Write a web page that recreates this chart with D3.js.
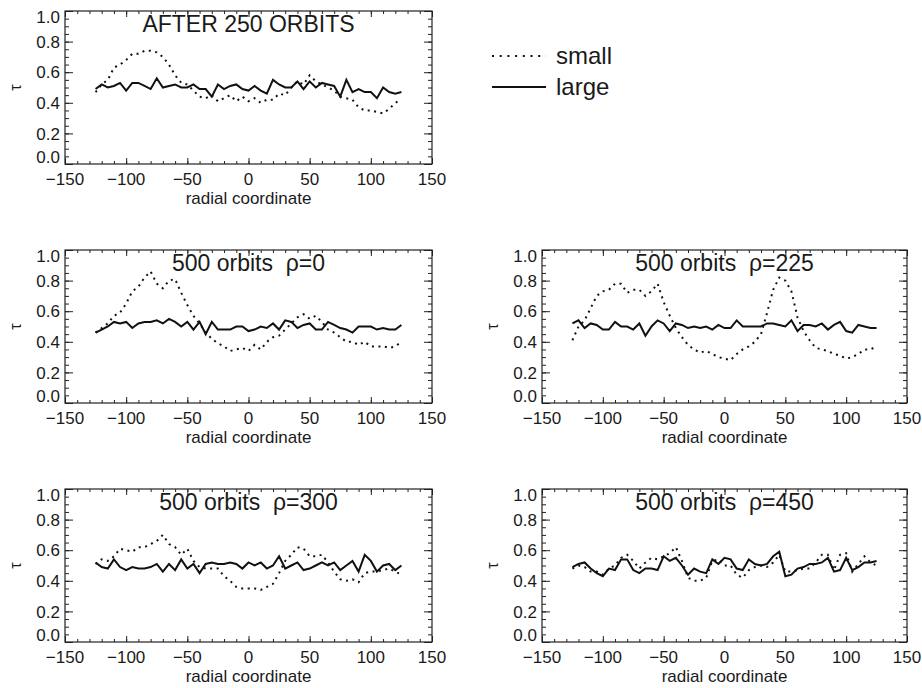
<!DOCTYPE html>
<html>
<head>
<meta charset="utf-8">
<script src="https://cdn.jsdelivr.net/npm/d3@7"></script>
<style>
	body { margin: 0; background: #fff; }
	text { font-family: "Liberation Sans", Arial, Helvetica, sans-serif; fill: #1a1a1a; }
</style>
</head>
<body>
<div id="chart"></div>
<script>
/* global d3 */

//	BEGIN data

// radial coordinate of every sample (same for all panels)
var radial = [-125, -120, -115, -110, -105, -100, -95, -90, -85, -80, -75, -70, -65, -60, -55, -50,
	-45, -40, -35, -30, -25, -20, -15, -10, -5, 0, 5, 10, 15, 20, 25, 30, 35, 40, 45, 50,
	55, 60, 65, 70, 75, 80, 85, 90, 95, 100, 105, 110, 115, 120, 125];

var panelTitles = ["AFTER 250 ORBITS", "500 orbits  \u03c1=0", "500 orbits  \u03c1=225",
	"500 orbits  \u03c1=300", "500 orbits  \u03c1=450"];

var seriesNames = ["small", "large"];

var xTicks = [-150, -100, -50, 0, 50, 100, 150];
var yTicks = [0.0, 0.2, 0.4, 0.6, 0.8, 1.0];

// after 250 orbits
var small250 = [0.47, 0.52, 0.55, 0.63, 0.65, 0.68, 0.72, 0.72, 0.74, 0.74, 0.73, 0.70, 0.65, 0.58, 0.53, 0.52,
	0.48, 0.44, 0.43, 0.45, 0.41, 0.43, 0.45, 0.41, 0.44, 0.41, 0.43, 0.40, 0.42, 0.42, 0.46, 0.45, 0.50, 0.54, 0.52, 0.58,
	0.54, 0.52, 0.50, 0.48, 0.44, 0.43, 0.42, 0.37, 0.35, 0.35, 0.34, 0.33, 0.36, 0.40, 0.42];
var large250 = [0.49, 0.52, 0.50, 0.51, 0.53, 0.48, 0.53, 0.53, 0.51, 0.49, 0.56, 0.50, 0.51, 0.52, 0.50, 0.50,
	0.52, 0.49, 0.49, 0.44, 0.52, 0.49, 0.51, 0.52, 0.49, 0.48, 0.51, 0.48, 0.46, 0.55, 0.52, 0.50, 0.50, 0.54, 0.49, 0.54,
	0.50, 0.53, 0.52, 0.51, 0.44, 0.55, 0.47, 0.49, 0.47, 0.47, 0.43, 0.50, 0.47, 0.46, 0.47];

// 500 orbits, rho = 0
var small0 = [0.46, 0.49, 0.52, 0.57, 0.59, 0.65, 0.73, 0.76, 0.82, 0.86, 0.78, 0.75, 0.80, 0.81, 0.72, 0.64,
	0.57, 0.52, 0.46, 0.42, 0.39, 0.37, 0.34, 0.35, 0.36, 0.34, 0.38, 0.35, 0.40, 0.43, 0.44, 0.48, 0.52, 0.56, 0.58, 0.55,
	0.57, 0.53, 0.48, 0.46, 0.43, 0.40, 0.40, 0.38, 0.40, 0.37, 0.37, 0.37, 0.36, 0.37, 0.40];
var large0 = [0.46, 0.48, 0.50, 0.53, 0.52, 0.53, 0.49, 0.52, 0.53, 0.53, 0.54, 0.52, 0.55, 0.53, 0.50, 0.53,
	0.48, 0.53, 0.45, 0.53, 0.48, 0.48, 0.48, 0.50, 0.50, 0.47, 0.48, 0.50, 0.49, 0.52, 0.48, 0.54, 0.53, 0.49, 0.51, 0.52,
	0.48, 0.48, 0.53, 0.51, 0.49, 0.48, 0.46, 0.50, 0.50, 0.50, 0.48, 0.49, 0.48, 0.48, 0.51];

// 500 orbits, rho = 225
var small225 = [0.41, 0.50, 0.54, 0.62, 0.70, 0.73, 0.74, 0.78, 0.78, 0.72, 0.74, 0.74, 0.70, 0.73, 0.78, 0.66,
	0.57, 0.49, 0.43, 0.38, 0.35, 0.33, 0.34, 0.32, 0.30, 0.29, 0.28, 0.32, 0.35, 0.37, 0.40, 0.45, 0.59, 0.74, 0.82, 0.80,
	0.73, 0.56, 0.47, 0.41, 0.36, 0.35, 0.34, 0.32, 0.31, 0.29, 0.30, 0.32, 0.35, 0.35, 0.37];
var large225 = [0.52, 0.54, 0.49, 0.52, 0.51, 0.48, 0.48, 0.53, 0.50, 0.50, 0.48, 0.52, 0.44, 0.50, 0.54, 0.52,
	0.47, 0.52, 0.51, 0.49, 0.50, 0.49, 0.50, 0.48, 0.51, 0.49, 0.49, 0.54, 0.50, 0.50, 0.50, 0.50, 0.52, 0.52, 0.51, 0.50,
	0.54, 0.47, 0.51, 0.51, 0.50, 0.52, 0.48, 0.51, 0.53, 0.47, 0.46, 0.51, 0.50, 0.49, 0.49];

// 500 orbits, rho = 300
var small300 = [0.51, 0.54, 0.53, 0.56, 0.61, 0.60, 0.59, 0.62, 0.62, 0.64, 0.66, 0.70, 0.64, 0.62, 0.57, 0.61,
	0.53, 0.49, 0.48, 0.48, 0.48, 0.43, 0.40, 0.36, 0.35, 0.35, 0.35, 0.34, 0.36, 0.38, 0.45, 0.53, 0.57, 0.62, 0.61, 0.56,
	0.56, 0.57, 0.52, 0.46, 0.41, 0.40, 0.41, 0.39, 0.45, 0.46, 0.46, 0.47, 0.48, 0.46, 0.44];
var large300 = [0.52, 0.49, 0.48, 0.54, 0.49, 0.47, 0.49, 0.48, 0.48, 0.49, 0.51, 0.46, 0.51, 0.47, 0.54, 0.48,
	0.51, 0.45, 0.51, 0.52, 0.51, 0.51, 0.52, 0.51, 0.48, 0.52, 0.50, 0.52, 0.48, 0.50, 0.56, 0.48, 0.50, 0.52, 0.47, 0.48,
	0.50, 0.52, 0.50, 0.52, 0.47, 0.50, 0.53, 0.46, 0.57, 0.53, 0.46, 0.50, 0.51, 0.47, 0.50];

// 500 orbits, rho = 450
var small450 = [0.48, 0.50, 0.49, 0.46, 0.46, 0.44, 0.48, 0.50, 0.55, 0.57, 0.53, 0.48, 0.52, 0.55, 0.54, 0.56,
	0.58, 0.62, 0.53, 0.42, 0.40, 0.40, 0.42, 0.53, 0.54, 0.50, 0.50, 0.44, 0.42, 0.47, 0.49, 0.50, 0.49, 0.52, 0.57, 0.46,
	0.46, 0.47, 0.48, 0.48, 0.52, 0.57, 0.57, 0.47, 0.57, 0.58, 0.46, 0.51, 0.56, 0.52, 0.50];
var large450 = [0.49, 0.51, 0.52, 0.48, 0.45, 0.43, 0.48, 0.47, 0.54, 0.54, 0.47, 0.45, 0.48, 0.48, 0.47, 0.56,
	0.53, 0.55, 0.50, 0.44, 0.48, 0.46, 0.45, 0.54, 0.51, 0.55, 0.54, 0.48, 0.47, 0.54, 0.51, 0.50, 0.51, 0.56, 0.59, 0.43,
	0.44, 0.48, 0.49, 0.51, 0.51, 0.52, 0.55, 0.46, 0.47, 0.55, 0.47, 0.49, 0.52, 0.52, 0.53];

var smallSeries = [small250, small0, small225, small300, small450];
var largeSeries = [large250, large0, large225, large300, large450];

//	END data

//	BEGIN layout

// plot box of each panel (left, top, width)
var panelBoxes = [
	{ left: 65, top: 11, width: 367 },
	{ left: 65, top: 250, width: 367 },
	{ left: 542, top: 250, width: 365 },
	{ left: 65, top: 489, width: 367 },
	{ left: 542, top: 489, width: 365 }
];
var plotHeight = 153;

var svg = d3.select("#chart")
	.append("svg")
	.attr("width", 922)
	.attr("height", 688);

//	END layout

//	BEGIN panels

function drawPanel(i) {
	var box = panelBoxes[i];
	var g = svg.append("g")
		.attr("class", "panel")
		.attr("transform", "translate(" + box.left + "," + box.top + ")");

	var x = d3.scaleLinear().domain([-150, 150]).range([0, box.width]);
	var y = d3.scaleLinear().domain([0, 1]).range([plotHeight, 0]);

	// minor ticks every 10 on x, every 0.05 on y, all pointing inward
	var xMinor = x.ticks(30);
	var yMinor = y.ticks(20);

	function tickAxis(axis, scale, values, size) {
		return axis(scale).tickValues(values).tickSize(size).tickFormat("");
	}

	g.append("g").attr("transform", "translate(0," + plotHeight + ")")
		.call(tickAxis(d3.axisTop, x, xMinor, 3));
	g.append("g").attr("transform", "translate(0," + plotHeight + ")")
		.call(tickAxis(d3.axisTop, x, xTicks, 6));
	g.append("g").call(tickAxis(d3.axisBottom, x, xMinor, 3));
	g.append("g").call(tickAxis(d3.axisBottom, x, xTicks, 6));
	g.append("g").call(tickAxis(d3.axisRight, y, yMinor, 4));
	g.append("g").call(tickAxis(d3.axisRight, y, yTicks, 8));
	g.append("g").attr("transform", "translate(" + box.width + ",0)")
		.call(tickAxis(d3.axisLeft, y, yMinor, 4));
	g.append("g").attr("transform", "translate(" + box.width + ",0)")
		.call(tickAxis(d3.axisLeft, y, yTicks, 8));

	g.selectAll(".domain").remove();
	g.selectAll(".tick line").attr("stroke", "#222").attr("stroke-width", 1);

	// frame
	g.append("rect")
		.attr("x", 0)
		.attr("y", 0)
		.attr("width", box.width)
		.attr("height", plotHeight)
		.attr("fill", "none")
		.attr("stroke", "#222")
		.attr("stroke-width", 1.2);

	// x tick labels
	g.selectAll(".xlab")
		.data(xTicks)
		.enter().append("text")
		.attr("class", "xlab")
		.attr("x", function(d) { return x(d); })
		.attr("y", plotHeight + 21)
		.attr("text-anchor", "middle")
		.style("font-size", "17px")
		.text(function(d) { return d3.format("d")(d); });

	// y tick labels, kept inside the frame at both ends like the original
	g.selectAll(".ylab")
		.data(yTicks)
		.enter().append("text")
		.attr("class", "ylab")
		.attr("x", -5)
		.attr("y", function(d) { return Math.min(Math.max(y(d), 5.5), plotHeight - 7); })
		.attr("dy", "0.36em")
		.attr("text-anchor", "end")
		.style("font-size", "17px")
		.text(function(d) { return d3.format(".1f")(d); });

	g.append("text")
		.attr("x", box.width / 2)
		.attr("y", plotHeight + 40)
		.attr("text-anchor", "middle")
		.style("font-size", "17px")
		.text("radial coordinate");

	g.append("text")
		.attr("transform", "translate(-50," + (plotHeight / 2) + ") rotate(-90)")
		.attr("text-anchor", "middle")
		.attr("dy", "0.35em")
		.style("font-size", "16px")
		.text("\u03c4");

	g.append("text")
		.attr("x", box.width / 2)
		.attr("y", 21)
		.attr("text-anchor", "middle")
		.style("font-size", "23px")
		.style("white-space", "pre")
		.text(panelTitles[i]);

	var line = d3.line()
		.x(function(d, k) { return x(radial[k]); })
		.y(function(d) { return y(d); });

	g.append("path")
		.datum(largeSeries[i])
		.attr("fill", "none")
		.attr("stroke", "#111")
		.attr("stroke-width", 2)
		.attr("stroke-linejoin", "miter")
		.attr("d", line);

	g.append("path")
		.datum(smallSeries[i])
		.attr("fill", "none")
		.attr("stroke", "#111")
		.attr("stroke-width", 2)
		.attr("stroke-dasharray", "2,4.5")
		.attr("d", line);
}

for (var i = 0; i < panelTitles.length; i++) {
	drawPanel(i);
}

//	END panels

//	BEGIN legend

var legend = svg.append("g").attr("class", "legend");

var legendRows = legend.selectAll(".row")
	.data(seriesNames)
	.enter().append("g")
	.attr("class", "row")
	.attr("transform", function(d, k) { return "translate(492," + (56 + k * 31) + ")"; });

legendRows.append("line")
	.attr("x1", 0)
	.attr("x2", 54)
	.attr("y1", 0)
	.attr("y2", 0)
	.attr("stroke", "#111")
	.attr("stroke-width", function(d) { return d === "small" ? 2 : 1.8; })
	.attr("stroke-dasharray", function(d) { return d === "small" ? "2,5.7" : null; });

legendRows.append("text")
	.attr("x", 64)
	.attr("y", 8)
	.style("font-size", "24px")
	.text(function(d) { return d; });

//	END legend
</script>
</body>
</html>
